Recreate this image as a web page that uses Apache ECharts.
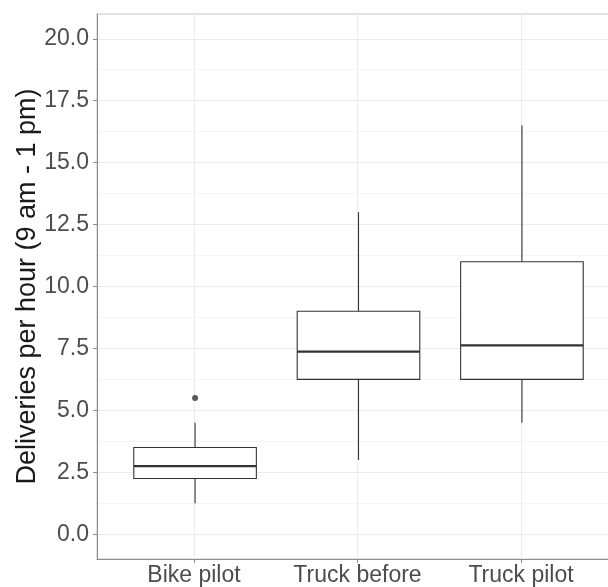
<!DOCTYPE html>
<html>
<head>
<meta charset="utf-8">
<script src="https://cdn.jsdelivr.net/npm/echarts@6/dist/echarts.min.js"></script>
<style>
html,body{margin:0;padding:0;background:#fff;}
#chart{width:608px;height:587px;}
</style>
</head>
<body>
<div id="chart"></div>
<script>
const categories = ['Bike pilot', 'Truck before', 'Truck pilot'];
const positions = [1, 2, 3];
const whiskerLow = [1.25, 3.0, 4.5];
const q1 = [2.25, 6.25, 6.25];
const median = [2.75, 7.375, 7.625];
const q3 = [3.5, 9.0, 11.0];
const whiskerHigh = [4.5, 13.0, 16.5];
const outlierPos = [1];
const outlierValues = [5.5];
const majorTicks = [0, 2.5, 5, 7.5, 10, 12.5, 15, 17.5, 20];
const minorTicks = [1.25, 3.75, 6.25, 8.75, 11.25, 13.75, 16.25, 18.75];
const yTitle = 'Deliveries per hour (9 am - 1 pm)';

const FONT = '"Liberation Sans", Arial, sans-serif';
const boxData = positions.map((p, i) => [p, whiskerLow[i], q1[i], median[i], q3[i], whiskerHigh[i]]);
const outlierData = outlierPos.map((p, i) => [p, outlierValues[i]]);
const halfBox = 0.375;
const LINE = '#333333';

function renderBox(params, api) {
  const x = api.value(0);
  const lo = api.value(1), b1 = api.value(2), md = api.value(3), b3 = api.value(4), hi = api.value(5);
  const tl = api.coord([x - halfBox, b3]);
  const br = api.coord([x + halfBox, b1]);
  const c3 = api.coord([x, b3]), cHi = api.coord([x, hi]);
  const c1 = api.coord([x, b1]), cLo = api.coord([x, lo]);
  const mL = api.coord([x - halfBox, md]), mR = api.coord([x + halfBox, md]);
  return {
    type: 'group',
    children: [
      {type: 'line', shape: {x1: c3[0], y1: c3[1], x2: cHi[0], y2: cHi[1]}, style: {stroke: LINE, lineWidth: 1.1}},
      {type: 'line', shape: {x1: c1[0], y1: c1[1], x2: cLo[0], y2: cLo[1]}, style: {stroke: LINE, lineWidth: 1.1}},
      {type: 'rect', shape: {x: tl[0], y: tl[1], width: br[0] - tl[0], height: br[1] - tl[1]},
       style: {fill: '#ffffff', stroke: LINE, lineWidth: 1.1}},
      {type: 'line', shape: {x1: mL[0], y1: mL[1], x2: mR[0], y2: mR[1]}, style: {stroke: LINE, lineWidth: 2.3}}
    ]
  };
}

const chart = echarts.init(document.getElementById('chart'), null, {renderer: 'canvas'});
chart.setOption({
  animation: false,
  backgroundColor: '#fff',
  grid: [
    {left: 97, top: 14, width: 523, height: 545, show: true, borderColor: '#c4c4c4', borderWidth: 1,
     backgroundColor: 'transparent', containLabel: false, outerBoundsMode: 'none'},
    {left: 194, top: 14, width: 327, height: 545, show: false, containLabel: false, outerBoundsMode: 'none'}
  ],
  xAxis: [
    {type: 'value', gridIndex: 0, min: 0.4, max: 3.6,
     axisLine: {show: true, onZero: false, lineStyle: {color: '#8c8c8c', width: 1}},
     axisTick: {show: false}, axisLabel: {show: false}, splitLine: {show: false}},
    {type: 'category', gridIndex: 1, data: categories, boundaryGap: false, position: 'bottom',
     axisLine: {show: false, onZero: false},
     axisTick: {show: true, length: 4, inside: false, lineStyle: {color: '#8c8c8c'}},
     axisLabel: {show: true, margin: 5, fontSize: 23, color: '#4d4d4d', fontFamily: FONT, interval: 0},
     splitLine: {show: true, lineStyle: {color: '#ebebeb', width: 1}}}
  ],
  yAxis: [
    {type: 'value', gridIndex: 0, min: -1, max: 21,
     name: yTitle, nameLocation: 'middle', nameGap: 56, nameRotate: 90, nameMoveOverlap: false,
     nameTextStyle: {fontSize: 27, color: '#1a1a1a', fontFamily: FONT},
     axisLine: {show: true, onZero: false, lineStyle: {color: '#8c8c8c', width: 1}},
     axisTick: {show: true, length: 4, customValues: majorTicks, lineStyle: {color: '#8c8c8c'}},
     axisLabel: {show: true, margin: 8, customValues: majorTicks, fontSize: 23, color: '#4d4d4d', fontFamily: FONT,
                 formatter: v => Number(v).toFixed(1)},
     splitLine: {show: true, lineStyle: {color: '#ebebeb', width: 1}}},
    {type: 'value', gridIndex: 0, min: -1, max: 21, position: 'left',
     axisLine: {show: false},
     axisTick: {show: false, customValues: minorTicks},
     axisLabel: {show: false, customValues: minorTicks},
     splitLine: {show: true, lineStyle: {color: '#f5f5f5', width: 1}}},
    {type: 'value', gridIndex: 1, min: -1, max: 21, show: false,
     splitLine: {show: false}}
  ],
  series: [
    {type: 'custom', xAxisIndex: 0, yAxisIndex: 0, data: boxData, z: 3,
     encode: {x: 0, y: [1, 2, 3, 4, 5]}, renderItem: renderBox},
    {type: 'scatter', xAxisIndex: 0, yAxisIndex: 0, data: outlierData, symbol: 'circle', symbolSize: 6,
     itemStyle: {color: '#333333'}, z: 5}
  ]
});
</script>
</body>
</html>
